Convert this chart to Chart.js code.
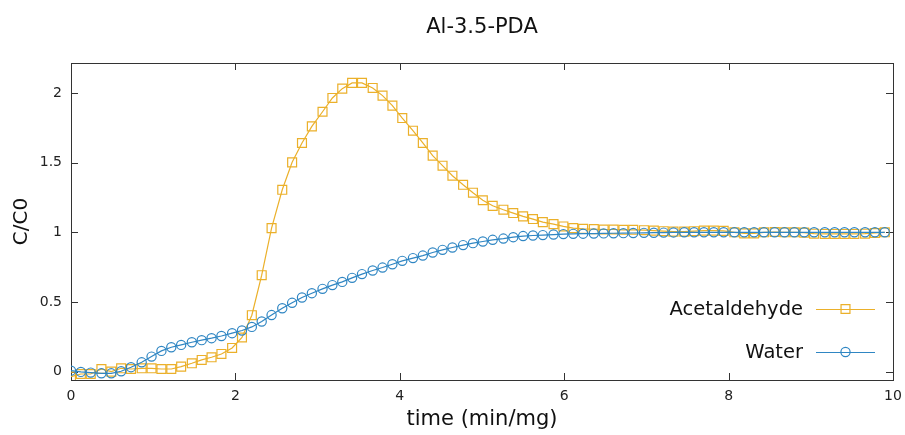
<!DOCTYPE html>
<html>
<head>
<meta charset="utf-8">
<script src="https://cdn.jsdelivr.net/npm/chart.js@4.4.1/dist/chart.umd.min.js"></script>
<style>
html,body{margin:0;padding:0;background:#fff;}
</style>
</head>
<body>
<canvas id="myChart" width="905" height="435"></canvas>
<script>
// time (min/mg)
var time = [0, 0.12, 0.24, 0.37, 0.49, 0.61, 0.73, 0.86, 0.98, 1.10,
    1.22, 1.34, 1.47, 1.59, 1.71, 1.83, 1.96, 2.08, 2.20, 2.32,
    2.44, 2.57, 2.69, 2.81, 2.93, 3.06, 3.18, 3.30, 3.42, 3.54,
    3.67, 3.79, 3.91, 4.03, 4.16, 4.28, 4.40, 4.52, 4.64, 4.77,
    4.89, 5.01, 5.13, 5.26, 5.38, 5.50, 5.62, 5.74, 5.87, 5.99,
    6.11, 6.23, 6.36, 6.48, 6.60, 6.72, 6.84, 6.97, 7.09, 7.21,
    7.33, 7.46, 7.58, 7.70, 7.82, 7.94, 8.07, 8.19, 8.31, 8.43,
    8.56, 8.68, 8.80, 8.92, 9.04, 9.17, 9.29, 9.41, 9.53, 9.66,
    9.78, 9.90]

var acetaldehyde = [-0.036, -0.017, -0.017, 0.019, 0.0, 0.024, 0.019, 0.024, 0.024, 0.019,
    0.019, 0.036, 0.06, 0.084, 0.103, 0.127, 0.17, 0.245, 0.405, 0.692,
    1.03, 1.305, 1.502, 1.641, 1.76, 1.865, 1.964, 2.031, 2.072, 2.072,
    2.036, 1.981, 1.909, 1.82, 1.729, 1.641, 1.55, 1.478, 1.406, 1.341,
    1.284, 1.23, 1.19, 1.162, 1.138, 1.114, 1.095, 1.073, 1.059, 1.042,
    1.03, 1.025, 1.023, 1.02, 1.02, 1.018, 1.018, 1.015, 1.012, 1.008,
    1.005, 1.005, 1.008, 1.012, 1.012, 1.01, 1.0, 0.992, 0.992, 1.0,
    1.002, 1.0, 1.0, 0.998, 0.99, 0.988, 0.988, 0.988, 0.988, 0.99,
    0.995, 1.0]

var water = [0.007, -0.002, -0.007, -0.012, -0.012, 0.003, 0.032, 0.067, 0.108, 0.149,
    0.175, 0.192, 0.211, 0.226, 0.24, 0.256, 0.276, 0.295, 0.321, 0.36,
    0.406, 0.455, 0.494, 0.532, 0.563, 0.594, 0.621, 0.644, 0.673, 0.7,
    0.726, 0.747, 0.771, 0.795, 0.815, 0.833, 0.855, 0.874, 0.891, 0.908,
    0.922, 0.934, 0.946, 0.955, 0.965, 0.973, 0.977, 0.98, 0.984, 0.987,
    0.989, 0.99, 0.991, 0.992, 0.993, 0.994, 0.995, 0.996, 0.997, 0.998,
    0.999, 1.0, 1.0, 1.0, 1.0, 1.0, 1.0, 1.0, 1.0, 1.0,
    1.0, 1.0, 1.0, 1.0, 1.0, 1.0, 1.0, 1.0, 1.0, 1.0,
    1.0, 1.0]

var xTicks = [0, 2, 4, 6, 8, 10]
var yTicks = [0, 0.5, 1, 1.5, 2]
var chartTitle = 'Al-3.5-PDA'

var orange = '#EBB02A'
var blue = '#2f86c3'
var font = 'DejaVu Sans'

function pairs(xs, ys) {
    var out = []
    for (var i = 0; i < xs.length; i++) out.push({x: xs[i], y: ys[i]})
    return out
}

// gnuplot style box with inward ticks, title centred over the plot
var framePlugin = {
    id: 'frame',
    beforeDatasetsDraw: function(chart) {
        var ctx = chart.ctx, a = chart.chartArea
        var xs = chart.scales.x, ys = chart.scales.y
        ctx.save()
        ctx.strokeStyle = '#333'
        ctx.lineWidth = 1
        ctx.strokeRect(a.left + 0.5, a.top + 0.5, a.right - a.left, a.bottom - a.top)
        ctx.beginPath()
        xTicks.forEach(function(v) {
            var px = Math.round(xs.getPixelForValue(v)) + 0.5
            ctx.moveTo(px, a.bottom); ctx.lineTo(px, a.bottom - 7)
            ctx.moveTo(px, a.top); ctx.lineTo(px, a.top + 7)
        })
        yTicks.forEach(function(v) {
            var py = Math.round(ys.getPixelForValue(v)) + 0.5
            ctx.moveTo(a.left, py); ctx.lineTo(a.left + 7, py)
            ctx.moveTo(a.right, py); ctx.lineTo(a.right - 7, py)
        })
        ctx.stroke()

        ctx.fillStyle = '#111'
        ctx.font = '21px "' + font + '"'
        ctx.textAlign = 'center'
        ctx.textBaseline = 'middle'
        ctx.fillText(chartTitle, (a.left + a.right) / 2, 28)
        ctx.restore()
    }
}

// legend inside the plot, bottom right
var legendPlugin = {
    id: 'insideLegend',
    afterDraw: function(chart) {
        var ctx = chart.ctx, a = chart.chartArea
        var rows = [chart.data.datasets[0], chart.data.datasets[1]]
        ctx.save()
        ctx.font = '19.5px "' + font + '"'
        ctx.textAlign = 'right'
        ctx.textBaseline = 'middle'
        rows.forEach(function(ds, i) {
            var y = 309 + i * 43
            var tx = a.right - 90
            ctx.fillStyle = '#111'
            ctx.fillText(ds.label, tx, y + 1)
            var x1 = tx + 13, x2 = tx + 72, mx = (x1 + x2) / 2
            ctx.strokeStyle = ds.borderColor
            ctx.lineWidth = 1.2
            ctx.beginPath()
            ctx.moveTo(x1, y + 0.5); ctx.lineTo(x2, y + 0.5)
            ctx.stroke()
            ctx.beginPath()
            if (ds.pointStyle === 'rect') {
                var s = ds.pointRadius * Math.SQRT1_2
                ctx.rect(mx - s, y - s, 2 * s, 2 * s)
            } else {
                ctx.arc(mx, y, ds.pointRadius, 0, Math.PI * 2)
            }
            ctx.stroke()
        })
        ctx.restore()
    }
}

var ctx = document.getElementById('myChart').getContext('2d')

var chart = new Chart(ctx, {
    type: 'line',
    data: {
        datasets: [
            {
                label: 'Acetaldehyde',
                data: pairs(time, acetaldehyde),
                borderColor: orange,
                backgroundColor: 'rgba(0,0,0,0)',
                borderWidth: 1.2,
                pointStyle: 'rect',
                pointRadius: 6.3,
                pointBorderWidth: 1.2,
                pointBorderColor: orange,
                pointBackgroundColor: 'rgba(0,0,0,0)',
                tension: 0,
                order: 1
            },
            {
                label: 'Water',
                data: pairs(time, water),
                borderColor: blue,
                backgroundColor: 'rgba(0,0,0,0)',
                borderWidth: 1.2,
                pointStyle: 'circle',
                pointRadius: 4.6,
                pointBorderWidth: 1.2,
                pointBorderColor: blue,
                pointBackgroundColor: 'rgba(0,0,0,0)',
                tension: 0,
                order: 0
            }
        ]
    },
    options: {
        responsive: false,
        animation: false,
        devicePixelRatio: 1,
        layout: {padding: {left: 0, right: 0, top: 63, bottom: 0}},
        plugins: {
            legend: {display: false},
            tooltip: {enabled: false},
            title: {display: false}
        },
        scales: {
            x: {
                type: 'linear',
                min: 0,
                max: 10,
                grid: {display: false, drawTicks: false},
                border: {display: false},
                afterBuildTicks: function(s) { s.ticks = xTicks.map(function(v) { return {value: v} }) },
                afterFit: function(s) {
                    s.height = 55
                    s.paddingLeft = 0
                    s.paddingRight = 12
                },
                ticks: {
                    color: '#222',
                    padding: 8,
                    maxRotation: 0,
                    font: {family: font, size: 14},
                    callback: function(v) { return String(v) }
                },
                title: {
                    display: true,
                    text: 'time (min/mg)',
                    color: '#111',
                    font: {family: font, size: 21},
                    padding: {top: 0, bottom: 3}
                }
            },
            y: {
                type: 'linear',
                min: -0.06,
                max: 2.215,
                grid: {display: false, drawTicks: false},
                border: {display: false},
                afterBuildTicks: function(s) { s.ticks = yTicks.map(function(v) { return {value: v} }) },
                afterFit: function(s) {
                    s.width = 71
                    s.paddingTop = 0
                    s.paddingBottom = 0
                },
                ticks: {
                    color: '#222',
                    padding: 9,
                    font: {family: font, size: 14},
                    callback: function(v) { return String(v) }
                },
                title: {
                    display: true,
                    text: 'C/C0',
                    color: '#111',
                    font: {family: font, size: 20},
                    padding: {top: 10, bottom: 0}
                }
            }
        }
    },
    plugins: [framePlugin, legendPlugin]
})
</script>
</body>
</html>
